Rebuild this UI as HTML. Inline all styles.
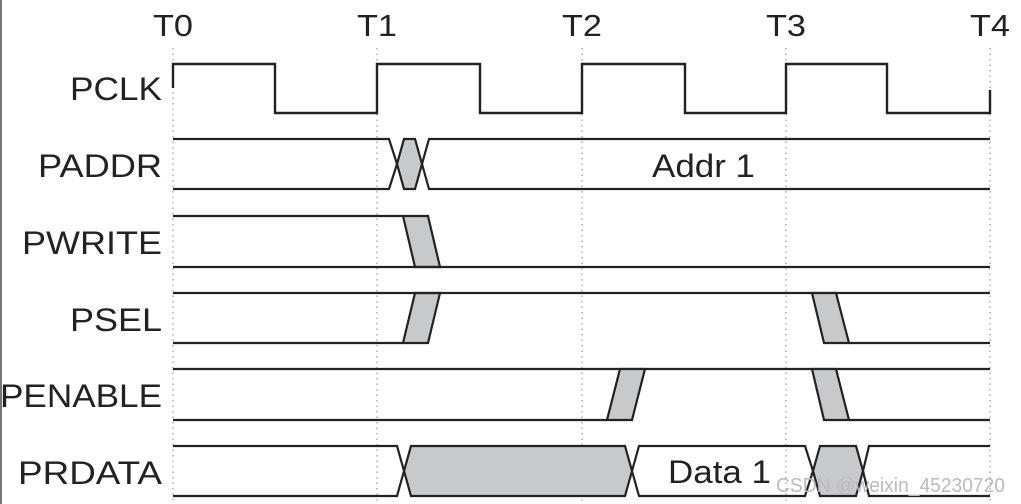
<!DOCTYPE html>
<html><head><meta charset="utf-8"><style>
html,body{margin:0;padding:0;background:#fff;}
svg{display:block;}
text{font-family:"Liberation Sans",Arial,sans-serif;fill:#222;}
</style></head><body>
<svg width="1021" height="504" viewBox="0 0 1021 504" xmlns="http://www.w3.org/2000/svg">
<line x1="1" y1="0" x2="1" y2="504" stroke="#777" stroke-width="2"/>
<g stroke="#999" stroke-width="1.2" stroke-dasharray="1.5,4">
<line x1="173" y1="48" x2="173" y2="504"/>
<line x1="377" y1="48" x2="377" y2="504"/>
<line x1="582" y1="48" x2="582" y2="504"/>
<line x1="786" y1="48" x2="786" y2="504"/>
<line x1="990" y1="48" x2="990" y2="504"/>
</g>
<g font-size="31" lengthAdjust="spacingAndGlyphs">
<text x="153" y="36" textLength="40" lengthAdjust="spacingAndGlyphs">T0</text>
<text x="357" y="36" textLength="40" lengthAdjust="spacingAndGlyphs">T1</text>
<text x="562" y="36" textLength="40" lengthAdjust="spacingAndGlyphs">T2</text>
<text x="766" y="36" textLength="40" lengthAdjust="spacingAndGlyphs">T3</text>
<text x="970" y="36" textLength="40" lengthAdjust="spacingAndGlyphs">T4</text>
</g>
<g font-size="32">
<text x="70" y="100" textLength="92" lengthAdjust="spacingAndGlyphs">PCLK</text>
<text x="38" y="177" textLength="124" lengthAdjust="spacingAndGlyphs">PADDR</text>
<text x="22" y="254" textLength="140" lengthAdjust="spacingAndGlyphs">PWRITE</text>
<text x="70" y="331" textLength="92" lengthAdjust="spacingAndGlyphs">PSEL</text>
<text x="0" y="407" textLength="162" lengthAdjust="spacingAndGlyphs">PENABLE</text>
<text x="18" y="484" textLength="144" lengthAdjust="spacingAndGlyphs">PRDATA</text>
</g>
<g stroke="#222" stroke-width="2.4" fill="none" stroke-linejoin="miter">
<polyline points="173,88 173,64 275,64 275,113 377,113 377,64 480,64 480,113 582,113 582,64 685,64 685,113 786,113 786,64 887,64 887,113 990,113 990,90"/>
</g>
<g stroke="#222" stroke-width="2.2" fill="#c8c9cb" stroke-linejoin="miter">
<polygon points="397,164 404,139 415,139 422,164 415,189 404,189"/>
<polyline fill="none" points="173,139 389,139 397,164"/>
<polyline fill="none" points="173,189 389,189 397,164"/>
<polyline fill="none" points="990,139 429,139 422,164 429,189 990,189"/>
<polygon points="403,216 428,216 440,267 415,267"/>
<line x1="173" y1="216" x2="403" y2="216"/>
<line x1="173" y1="267" x2="990" y2="267"/>
<polygon points="403,343 428,343 440,293 415,293"/>
<line x1="173" y1="293" x2="990" y2="293"/>
<line x1="173" y1="343" x2="403" y2="343"/>
<polygon points="812,293 836,293 849,343 824,343"/>
<line x1="849" y1="343" x2="990" y2="343"/>
<line x1="173" y1="369" x2="990" y2="369"/>
<line x1="173" y1="420" x2="607" y2="420"/>
<polygon points="607,420 632,420 645,369 620,369"/>
<polygon points="812,369 836,369 849,420 824,420"/>
<line x1="849" y1="420" x2="990" y2="420"/>
<polygon points="404,471 411,446 625,446 632,471 625,496 411,496"/>
<polyline fill="none" points="173,446 397,446 404,471 397,496 173,496"/>
<polyline fill="none" points="632,471 639,446 805,446 813,471 805,496 639,496 632,471"/>
<polygon points="813,471 820,446 856,446 863,471 856,496 820,496"/>
<polyline fill="none" points="990,446 869,446 863,471 869,496 990,496"/>
</g>
<g font-size="32">
<text x="652" y="177" textLength="103" lengthAdjust="spacingAndGlyphs">Addr 1</text>
<text x="668" y="483" textLength="103" lengthAdjust="spacingAndGlyphs">Data 1</text>
</g>
<text x="776" y="492" font-size="20" textLength="229" lengthAdjust="spacingAndGlyphs" style="fill:#bbb">CSDN @weixin_45230720</text>
</svg>
</body></html>
